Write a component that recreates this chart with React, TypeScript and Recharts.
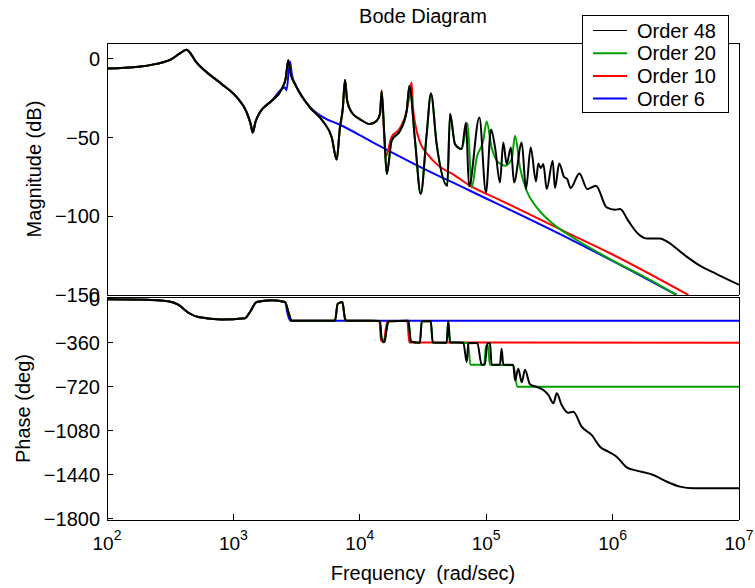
import React from 'react';
import { LineChart, Line, XAxis, YAxis, Legend } from 'recharts';

// ---------- data (frequency in rad/sec, magnitude in dB, phase in deg) ----------
const mag48: [number, number][] = [
  [100, -6.2], [178, -5.1], [240, -3.4], [324, -0.2], [378, 3.4], [427, 5.7], [457, 3.5], [501, -1.5],
  [596, -7.6], [807, -16], [1094, -25.6], [1274, -34], [1365, -41], [1422, -46.8], [1496, -40],
  [1622, -34], [2009, -26.7], [2410, -19.3], [2600, -12], [2716, -1], [2851, -10], [3069, -16],
  [3681, -26.7], [4036, -31], [5140, -40], [6000, -50], [6561, -64], [6966, -43.6], [7328, -32],
  [7638, -13.5], [7943, -26.7], [8610, -34], [10000, -38.3], [12050, -41.5], [13610, -39.4],
  [14450, -35], [14890, -20.7], [15670, -50], [16330, -73.2], [17860, -52], [20800, -45.7],
  [23500, -33], [24660, -17.1], [27350, -52], [30340, -85.9], [33810, -47.8], [36560, -22],
  [40550, -54.2], [49200, -80.6], [51760, -35.1], [56620, -54.2], [63970, -57.3], [69180, -40.4],
  [73110, -81], [88310, -37.3], [99540, -84.9], [109100, -45], [117500, -56.3], [128500, -78.5],
  [136500, -53.1], [145200, -66.9], [156700, -56.3], [166000, -78.5], [191000, -53.1],
  [206500, -82.7], [224900, -56.3], [247700, -77.9], [258200, -66.5], [269800, -69.4],
  [283100, -66.9], [301300, -82.7], [335700, -64.8], [349900, -82.1], [378400, -66.5],
  [412100, -74.9], [437500, -76.4], [465600, -82.1], [545800, -72.8], [631000, -82.7],
  [737900, -80.6], [897500, -94.4], [1045000, -95.9], [1146000, -95.4], [1330000, -102.9],
  [1596000, -111.3], [1862000, -114.1], [2371000, -114.1], [2761000, -116.6], [3622000, -124],
  [4909000, -131.4], [6653000, -136.7], [10000000, -143.5],
];

const mag20: [number, number][] = [
  [100, -6.2], [178, -5.1], [240, -3.4], [324, -0.2], [378, 3.4], [427, 5.7], [457, 3.5], [501, -1.5],
  [596, -7.6], [807, -16], [1094, -25.6], [1274, -34], [1365, -41], [1422, -46.8], [1496, -40],
  [1622, -34], [2009, -26.7], [2410, -19.3], [2600, -12], [2716, -1], [2851, -10], [3069, -16],
  [3681, -26.7], [4036, -31], [5140, -40], [6000, -50], [6561, -64], [6966, -43.6], [7328, -32],
  [7638, -13.5], [7943, -26.7], [8610, -34], [10000, -38.3], [12050, -41.5], [13610, -39.4],
  [14450, -35], [14890, -20.7], [15670, -50], [16330, -73.2], [17860, -52], [20800, -45.7],
  [23500, -33], [24660, -17.1], [27350, -52], [30340, -85.9], [33810, -47.8], [36560, -22],
  [40550, -54.2], [49200, -80.6], [51760, -35.1], [56620, -54.2], [63970, -57.3], [71290, -41],
  [76740, -81.7], [84140, -62.7], [94840, -52], [100700, -39.8], [110400, -56.3], [124700, -65.8],
  [140900, -67.9], [159200, -63.7], [169000, -48.9], [184900, -69], [208900, -83.8],
  [251200, -94.4], [339600, -105], [460300, -112.4], [955000, -127.2], [1995000, -140.5],
  [3214000, -150],
];

const mag10: [number, number][] = [
  [100, -6.2], [178, -5.1], [240, -3.4], [324, -0.2], [378, 3.4], [427, 5.7], [457, 3.5], [501, -1.5],
  [596, -7.6], [807, -16], [1094, -25.6], [1274, -34], [1365, -41], [1422, -46.8], [1496, -40],
  [1622, -34], [2009, -26.7], [2410, -19.3], [2600, -12], [2716, -1], [2851, -10], [3069, -16],
  [3681, -26.7], [4036, -31], [5140, -40], [6000, -50], [6561, -64], [6966, -43.6], [7328, -32],
  [7638, -13.5], [7943, -26.7], [8610, -34], [10000, -38.3], [12050, -41.5], [13610, -39.4],
  [14450, -35], [14890, -20], [15490, -45], [16030, -62], [17780, -50], [20800, -44],
  [23500, -33], [24830, -22], [25700, -15], [26300, -30], [27540, -42], [29920, -53],
  [34670, -61], [40550, -66.9], [56230, -74], [74470, -80.6], [128500, -89.7], [460300, -111.3],
  [955000, -123.5], [3981000, -150],
];

const mag6: [number, number][] = [
  [100, -6.2], [178, -5.1], [240, -3.4], [324, -0.2], [378, 3.4], [427, 5.7], [457, 3.5], [501, -1.5],
  [596, -7.6], [807, -16], [1094, -25.6], [1274, -34], [1365, -41], [1422, -46.8], [1496, -40],
  [1622, -34], [2009, -26.7], [2410, -19.3], [2559, -18.2], [2630, -20], [2805, -1.7], [2900, -10],
  [3162, -18], [4036, -30.5], [5140, -37.2], [6966, -41.9], [12050, -52.1], [29920, -68.6],
  [74470, -83.8], [460300, -114.5], [955000, -127.5], [3214000, -150],
];

const ph48: [number, number][] = [
  [100, -4], [200, -8], [305, -21], [366, -49], [440, -115], [527, -150], [807, -170], [1236, -160],
  [1352, -109], [1528, -27], [2009, -13], [2559, -27], [2723, -109], [2891, -180], [6368, -180],
  [6683, -41], [7278, -27], [7638, -164], [7870, -180], [14450, -182], [14890, -327], [15630, -355],
  [16330, -245], [16830, -185], [24210, -180], [25350, -350], [29920, -360], [30900, -185],
  [36390, -182], [37760, -358], [48640, -360], [50120, -185], [51760, -358], [65920, -360],
  [70150, -518], [72280, -365], [81470, -362], [85110, -365], [92040, -540], [97720, -538],
  [102100, -362], [107200, -365], [110400, -540], [128500, -540], [132400, -409], [136500, -540],
  [163700, -542], [169000, -668], [179500, -573], [191000, -684], [202800, -581], [221800, -700],
  [253500, -723], [283100, -747], [310500, -788], [340400, -856], [361400, -774], [395500, -870],
  [445700, -933], [488700, -925], [568900, -1047], [682300, -1115], [794300, -1211],
  [924700, -1252], [1076000, -1293], [1291000, -1380], [1552000, -1407], [2104000, -1443],
  [2679000, -1497], [3412000, -1538], [4345000, -1552], [10000000, -1552],
];

const ph20: [number, number][] = [
  [100, -4], [200, -8], [305, -21], [366, -49], [440, -115], [527, -150], [807, -170], [1236, -160],
  [1352, -109], [1528, -27], [2009, -13], [2559, -27], [2723, -109], [2891, -180], [6368, -180],
  [6683, -41], [7278, -27], [7638, -164], [7870, -180], [14450, -182], [14890, -327], [15630, -355],
  [16330, -245], [16830, -185], [24210, -180], [25350, -350], [29920, -360], [30900, -185],
  [36390, -182], [37760, -358], [48640, -360], [50120, -185], [51760, -358], [65920, -360],
  [71600, -362], [75000, -540], [96600, -540], [99500, -385], [103500, -385], [106700, -540],
  [164100, -545], [175800, -720], [10000000, -720],
];

const ph10: [number, number][] = [
  [100, -4], [200, -8], [305, -21], [366, -49], [440, -115], [527, -150], [807, -170], [1236, -160],
  [1352, -109], [1528, -27], [2009, -13], [2559, -27], [2723, -109], [2891, -180], [6368, -180],
  [6683, -41], [7278, -27], [7638, -164], [7870, -180], [14290, -182], [14720, -340],
  [15490, -358], [16030, -250], [16600, -185], [23710, -180], [24660, -358], [10000000, -360],
];

const ph6: [number, number][] = [
  [100, -4], [200, -8], [305, -21], [366, -49], [440, -115], [527, -150], [807, -170], [1236, -160],
  [1352, -109], [1528, -27], [2009, -13], [2559, -27], [2679, -120], [2818, -180], [10000000, -180],
];

const seriesNames = ['Order 6', 'Order 10', 'Order 20', 'Order 48'];
const seriesColors = ['#0000ff', '#ff0000', '#00a000', '#000000'];
const legendOrder = [3, 2, 1, 0];

const majorFreqTicks = [1e2, 1e3, 1e4, 1e5, 1e6, 1e7];
const minorFreqTicks = [
  200, 300, 400, 500, 600, 700, 800, 900,
  2000, 3000, 4000, 5000, 6000, 7000, 8000, 9000,
  20000, 30000, 40000, 50000, 60000, 70000, 80000, 90000,
  200000, 300000, 400000, 500000, 600000, 700000, 800000, 900000,
  2000000, 3000000, 4000000, 5000000, 6000000, 7000000, 8000000, 9000000,
];
const magTicks = [-150, -100, -50, 0];
const phaseTicks = [-1800, -1440, -1080, -720, -360, 0];

const titleText = 'Bode Diagram';
const magLabel = 'Magnitude (dB)';
const phaseLabel = 'Phase (deg)';
const freqLabel = 'Frequency  (rad/sec)';

// ---------- helpers ----------
const toRows = (arr: [number, number][]) => arr.map(([f, v]) => ({ f, v }));
const magSeries = [mag6, mag10, mag20, mag48].map(toRows);
const phaseSeries = [ph6, ph10, ph20, ph48].map(toRows);

const FONT = '"Liberation Sans", Arial, Helvetica, sans-serif';
const fmt = (v: number) => String(v).replace('-', '\u2212');
const tickStyle = { fontSize: 20, fill: '#000', fontFamily: FONT };
const crisp = { stroke: '#000', shapeRendering: 'crispEdges' as const };

const FREQ_DOMAIN: [number, number] = [100, 1e7];

const LogTick = (props: any) => {
  const { x, y, payload } = props;
  const exp = Math.round(Math.log10(payload.value));
  return (
    <text x={x} y={y + 30} textAnchor="middle" fontFamily={FONT} fill="#000" fontSize={19}>
      <tspan>10</tspan>
      <tspan dy={-10} fontSize={14}>{exp}</tspan>
    </text>
  );
};

const TitleLabel = (props: any) => {
  const vb = props.viewBox || { x: 107, y: 42, width: 632, height: 1 };
  return (
    <text x={vb.x + vb.width / 2} y={vb.y + (vb.height || 0) - 20} textAnchor="middle" fontFamily={FONT} fontSize={20} fill="#000">
      {titleText}
    </text>
  );
};

const XLabel = (props: any) => {
  const vb = props.viewBox || { x: 107, y: 520, width: 632 };
  return (
    <text x={vb.x + vb.width / 2} y={vb.y + 60} textAnchor="middle" fontFamily={FONT} fontSize={20} fill="#000" style={{ whiteSpace: 'pre' }}>
      {freqLabel}
    </text>
  );
};

const makeYLabel = (text: string, dx: number) => (props: any) => {
  const vb = props.viewBox || { x: 106, y: 0, width: 1, height: 0 };
  const cx = vb.x + (vb.width || 0) - dx;
  const cy = vb.y + vb.height / 2;
  return (
    <text x={cx} y={cy} transform={`rotate(-90 ${cx} ${cy})`} textAnchor="middle" fontFamily={FONT} fontSize={20} fill="#000">
      {text}
    </text>
  );
};
const MagYLabel = makeYLabel(magLabel, 66);
const PhaseYLabel = makeYLabel(phaseLabel, 77);

const LegendBox = () => (
  <svg width={148} height={99} style={{ display: 'block' }}>
    <rect x={0.5} y={0.5} width={146} height={97} fill="#fff" stroke="#000" strokeWidth={1} />
    {legendOrder.map((idx, i) => {
      const cy = 15.5 + i * 22.7;
      const color = seriesColors[idx];
      return (
        <g key={seriesNames[idx]}>
          <line x1={11} x2={45} y1={cy} y2={cy} stroke={color} strokeWidth={idx === 3 ? 1 : 2} />
          <text x={55} y={cy + 7} fontFamily={FONT} fontSize={20} fill="#000">{seriesNames[idx]}</text>
        </g>
      );
    })}
  </svg>
);

const commonX = {
  type: 'number' as const,
  dataKey: 'f',
  scale: 'log' as const,
  domain: FREQ_DOMAIN,
  allowDataOverflow: true,
  height: 1,
  stroke: '#000',
  interval: 0 as const,
  tickLine: crisp,
};

const commonY = {
  type: 'number' as const,
  allowDataOverflow: true,
  width: 1,
  stroke: '#000',
  interval: 0 as const,
  tickSize: -6,
  tickLine: crisp,
  axisLine: crisp,
};

export default function App() {
  return (
    <div style={{ position: 'absolute', left: 0, top: 0, width: 755, height: 588, background: '#fff' }}>
      {/* Magnitude panel */}
      <div style={{ position: 'absolute', left: 0, top: 0 }}>
        <LineChart width={755} height={310} margin={{ top: 41, right: 15, bottom: 13, left: 106 }}>
          <XAxis {...commonX} xAxisId="xb" orientation="bottom" ticks={majorFreqTicks} tick={false} tickSize={-6} axisLine={crisp} />
          <XAxis {...commonX} xAxisId="xbm" orientation="bottom" ticks={minorFreqTicks} tick={false} tickSize={-4} axisLine={false} />
          <XAxis {...commonX} xAxisId="xt" orientation="top" ticks={majorFreqTicks} tick={false} tickSize={-6} axisLine={crisp} label={<TitleLabel />} />
          <XAxis {...commonX} xAxisId="xtm" orientation="top" ticks={minorFreqTicks} tick={false} tickSize={-4} axisLine={false} />
          <YAxis {...commonY} yAxisId="yl" domain={[-150, 10]} ticks={magTicks}
            tickMargin={13} tick={tickStyle} tickFormatter={fmt} label={<MagYLabel />} />
          <YAxis {...commonY} yAxisId="yr" orientation="right" domain={[-150, 10]} ticks={magTicks} tick={false} />
          {magSeries.map((d, i) => (
            <Line key={seriesNames[i]} xAxisId="xb" yAxisId="yl" data={d} dataKey="v" name={seriesNames[i]}
              stroke={seriesColors[i]} strokeWidth={2} dot={false} type="monotone" isAnimationActive={false} />
          ))}
          <Legend layout="vertical" align="center" verticalAlign="middle" content={<LegendBox />}
            wrapperStyle={{ left: 582, top: 15, width: 148, height: 99 }} />
        </LineChart>
      </div>
      {/* Phase panel */}
      <div style={{ position: 'absolute', left: 0, top: 275 }}>
        <LineChart width={755} height={313} margin={{ top: 20, right: 15, bottom: 66, left: 106 }}>
          <XAxis {...commonX} xAxisId="xb" orientation="bottom" ticks={majorFreqTicks} tick={<LogTick />} tickSize={-6} tickMargin={6} axisLine={crisp} label={<XLabel />} />
          <XAxis {...commonX} xAxisId="xbm" orientation="bottom" ticks={minorFreqTicks} tick={false} tickSize={-4} axisLine={false} />
          <XAxis {...commonX} xAxisId="xt" orientation="top" ticks={majorFreqTicks} tick={false} tickSize={-6} axisLine={crisp} />
          <XAxis {...commonX} xAxisId="xtm" orientation="top" ticks={minorFreqTicks} tick={false} tickSize={-4} axisLine={false} />
          <YAxis {...commonY} yAxisId="yl" domain={[-1811, 14]} ticks={phaseTicks}
            tickMargin={13} tick={tickStyle} tickFormatter={fmt} label={<PhaseYLabel />} />
          <YAxis {...commonY} yAxisId="yr" orientation="right" domain={[-1811, 14]} ticks={phaseTicks} tick={false} />
          {phaseSeries.map((d, i) => (
            <Line key={seriesNames[i]} xAxisId="xb" yAxisId="yl" data={d} dataKey="v" name={seriesNames[i]}
              stroke={seriesColors[i]} strokeWidth={2} dot={false} type="monotone" isAnimationActive={false} />
          ))}
        </LineChart>
      </div>
    </div>
  );
}
